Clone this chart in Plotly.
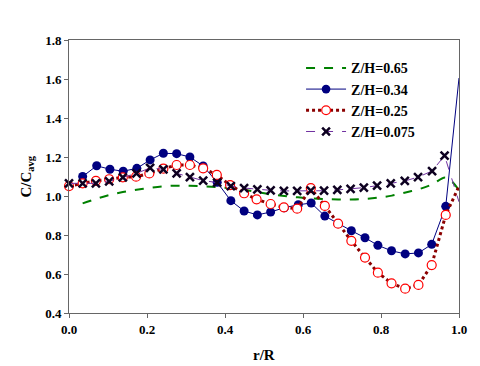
import plotly.graph_objects as go

# r/R positions of the measurement points
x_green = [0.035, 0.069, 0.104, 0.138, 0.173, 0.207, 0.242, 0.276, 0.31, 0.345, 0.38, 0.414, 0.449, 0.483,
           0.518, 0.552, 0.587, 0.621, 0.656, 0.69, 0.725, 0.759, 0.794, 0.828, 0.863, 0.897, 0.932, 0.966, 1.0]
y_green = [0.962, 0.985, 1.005, 1.02, 1.032, 1.042, 1.05, 1.053, 1.052, 1.05, 1.046, 1.04, 1.032, 1.02,
           1.008, 1.0, 0.993, 0.988, 0.984, 0.982, 0.982, 0.985, 0.992, 1.002, 1.018, 1.035, 1.06, 1.095, 1.03]

x_blue = [0.035, 0.071, 0.105, 0.139, 0.174, 0.208, 0.242, 0.276, 0.31, 0.344, 0.38, 0.415, 0.449, 0.483,
          0.517, 0.552, 0.588, 0.621, 0.656, 0.69, 0.724, 0.759, 0.792, 0.827, 0.862, 0.896, 0.93, 0.966, 1.0]
y_blue = [1.10, 1.155, 1.137, 1.127, 1.142, 1.185, 1.219, 1.217, 1.20, 1.154, 1.07, 0.976, 0.923, 0.903,
          0.918, 0.94, 0.955, 0.964, 0.897, 0.858, 0.822, 0.786, 0.747, 0.719, 0.703, 0.708, 0.752, 0.947, 1.605]

x_red = [0.0, 0.035, 0.069, 0.103, 0.138, 0.172, 0.206, 0.242, 0.276, 0.31, 0.344, 0.379, 0.413, 0.449, 0.481,
         0.517, 0.551, 0.585, 0.62, 0.656, 0.69, 0.724, 0.759, 0.792, 0.827, 0.862, 0.896, 0.93, 0.966, 1.0]
y_red = [1.051, 1.065, 1.078, 1.086, 1.096, 1.099, 1.116, 1.14, 1.159, 1.159, 1.142, 1.108, 1.056, 1.014, 0.983,
         0.959, 0.942, 0.935, 1.04, 0.949, 0.858, 0.77, 0.684, 0.607, 0.552, 0.525, 0.544, 0.646, 0.903, 1.05]

x_purple = [0.0, 0.035, 0.069, 0.103, 0.138, 0.173, 0.208, 0.242, 0.276, 0.31, 0.344, 0.38, 0.415, 0.449, 0.483,
            0.517, 0.551, 0.585, 0.62, 0.654, 0.688, 0.722, 0.756, 0.79, 0.825, 0.861, 0.895, 0.931, 0.963, 1.0]
y_purple = [1.065, 1.065, 1.065, 1.075, 1.096, 1.116, 1.144, 1.137, 1.116, 1.097, 1.079, 1.069, 1.051, 1.041, 1.034,
            1.029, 1.026, 1.026, 1.027, 1.027, 1.031, 1.036, 1.043, 1.053, 1.065, 1.077, 1.097, 1.128, 1.207, 0.97]

font = "Times New Roman"

fig = go.Figure()
fig.add_trace(go.Scatter(x=x_green, y=y_green, mode="lines", name="Z/H=0.65", line_shape="spline",
                         line=dict(color="#008000", width=2, dash="dash")))
fig.add_trace(go.Scatter(x=x_blue, y=y_blue, mode="lines+markers", name="Z/H=0.34",
                         line=dict(color="#000080", width=1),
                         marker=dict(symbol="circle", color="#000080", opacity=1, line=dict(width=0),
                                     size=[9] * (len(x_blue) - 1) + [0])))
fig.add_trace(go.Scatter(x=x_red, y=y_red, mode="lines+markers", name="Z/H=0.25", cliponaxis=False,
                         line=dict(color="#8B0000", width=3, dash="dot"),
                         marker=dict(symbol="circle", color="white", opacity=1,
                                     line=dict(width=1.2, color="#FF0000"),
                                     size=[9] * (len(x_red) - 1) + [0])))
fig.add_trace(go.Scatter(x=x_purple, y=y_purple, mode="lines+markers", name="Z/H=0.075", cliponaxis=False,
                         line=dict(color="#7030A0", width=1, dash="dash"),
                         marker=dict(symbol="x-thin", color="#0d0020", opacity=1,
                                     line=dict(width=2.5, color="#0d0020"),
                                     size=[8] * (len(x_purple) - 1) + [0])))

fig.update_layout(
    width=480, height=366,
    margin=dict(l=69, r=21, t=40, b=53, autoexpand=False),
    paper_bgcolor="white", plot_bgcolor="white",
    font=dict(family=font, size=13, color="black"),
    showlegend=True,
    legend=dict(x=0.595, y=0.955, xanchor="left", yanchor="top", bgcolor="rgba(0,0,0,0)",
                font=dict(family=font, size=14, color="black", weight="bold"),
                tracegroupgap=0, itemwidth=40),
)
fig.update_xaxes(range=[0, 1.0], dtick=0.2, tickformat=".1f", showgrid=False, zeroline=False,
                 showline=True, linecolor="#666666", linewidth=1, mirror=True,
                 ticks="outside", ticklen=4, tickcolor="#666666", automargin=False,
                 tickfont=dict(family=font, size=13, weight="bold"))
fig.update_yaxes(range=[0.4, 1.8], dtick=0.2, tickformat=".1f", showgrid=False, zeroline=False,
                 showline=True, linecolor="#666666", linewidth=1, mirror=True,
                 ticks="outside", ticklen=4, tickcolor="#666666", automargin=False,
                 tickfont=dict(family=font, size=13, weight="bold"))
fig.add_annotation(text="C/C<sub>avg</sub>", xref="paper", yref="paper", x=-0.11, y=0.5,
                   textangle=-90, showarrow=False, xanchor="center", yanchor="middle",
                   font=dict(family=font, size=15, weight="bold", color="black"))
fig.add_annotation(text="r/R", xref="paper", yref="paper", x=0.5, y=-0.154,
                   showarrow=False, xanchor="center", yanchor="middle",
                   font=dict(family=font, size=15, weight="bold", color="black"))

fig.write_html("out.html", config={"displayModeBar": False},
               post_script="document.body.style.margin='0';")
